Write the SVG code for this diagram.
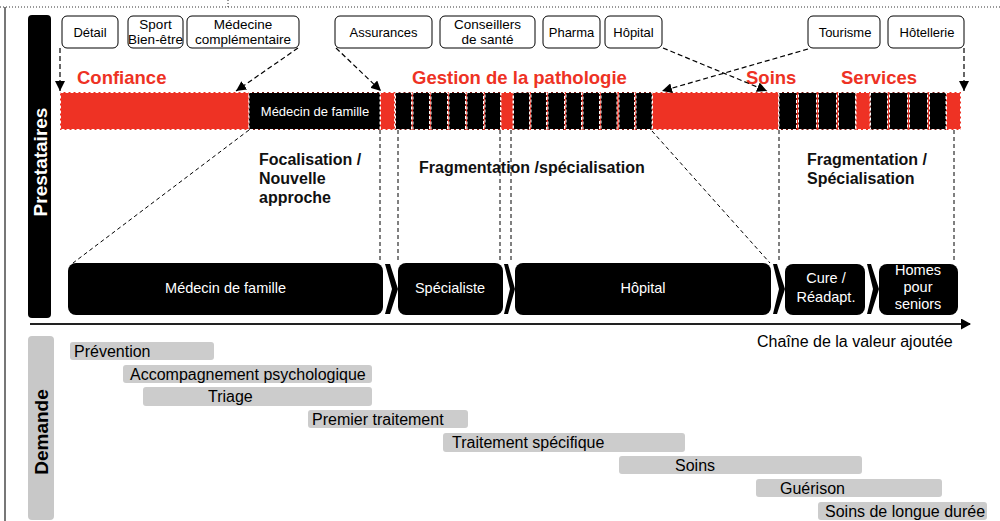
<svg xmlns="http://www.w3.org/2000/svg" width="1000" height="521" viewBox="0 0 1000 521">
<defs>
<style>
text{font-family:"Liberation Sans",Arial,sans-serif;}
.src rect{fill:#fff;stroke:#000;stroke-width:1;}
.src text{font-size:13px;fill:#000;text-anchor:middle;}
.src text.t2{font-size:13.5px;}
.red{fill:#EE3224;font-weight:bold;font-size:18.5px;}
.seg{fill:#000;stroke:#fff;stroke-width:1;stroke-dasharray:3,2;}
.segr{fill:#EE3224;stroke:#fff;stroke-width:1;stroke-dasharray:3,2;}
.stage rect,.stage polygon{fill:#000;}
.stage text{fill:#fff;font-size:14.5px;text-anchor:middle;}
.bold{font-weight:bold;font-size:16px;fill:#111;}
.dem rect{fill:#CCCCCC;}
.dem text{font-size:16px;fill:#000;}
.arr{fill:none;stroke:#000;stroke-width:1.2;stroke-dasharray:5,3;marker-end:url(#ah);}
.dl{fill:none;stroke:#000;stroke-width:1;stroke-dasharray:4,3;}
</style>
<marker id="ah" markerWidth="10" markerHeight="10" refX="10" refY="5" orient="auto" markerUnits="userSpaceOnUse">
<path d="M0,0 L10,5 L0,10 Z" fill="#000"/>
</marker>
<marker id="axh" markerWidth="10" markerHeight="11" refX="9" refY="5.5" orient="auto" markerUnits="userSpaceOnUse">
<path d="M0,0 L10,5.5 L0,11 Z" fill="#000"/>
</marker>
</defs>
<rect width="1000" height="521" fill="#fff"/>
<!-- frame -->
<g id="frame">
<line x1="0" y1="7" x2="1000" y2="7" stroke="#333" stroke-width="1" stroke-dasharray="1,2"/>
<line x1="228" y1="0" x2="228" y2="7" stroke="#333" stroke-width="1" stroke-dasharray="1,2"/>
<line x1="5" y1="7" x2="5" y2="521" stroke="#777" stroke-width="2"/>
</g>
<!-- side labels -->
<g id="prestataires">
<rect x="28" y="15" width="23" height="303" rx="4" fill="#000"/>
<text transform="translate(46.5,162) rotate(-90)" text-anchor="middle" font-size="19" font-weight="bold" fill="#fff">Prestataires</text>
</g>
<g id="demande">
<rect x="28" y="336" width="26" height="184" rx="4" fill="#C8C8C8"/>
<text transform="translate(48,432) rotate(-90)" text-anchor="middle" font-size="19" font-weight="bold" fill="#000">Demande</text>
</g>
<!-- top source boxes -->
<g class="src">
<g id="detail"><rect x="62" y="16" width="56" height="32" rx="5"/><text x="90" y="37">Détail</text></g>
<g id="sport"><rect x="128" y="16" width="55" height="32" rx="5"/><text class="t2" x="155.5" y="29">Sport</text><text class="t2" x="155.5" y="44">Bien-être</text></g>
<g id="medcomp"><rect x="187" y="16" width="112" height="32" rx="5"/><text class="t2" x="243" y="29">Médecine</text><text class="t2" x="243" y="44">complémentaire</text></g>
<g id="assurances"><rect x="335" y="16" width="97" height="32" rx="5"/><text x="383.5" y="37">Assurances</text></g>
<g id="conseillers"><rect x="440" y="16" width="95" height="32" rx="5"/><text class="t2" x="487.5" y="29">Conseillers</text><text class="t2" x="487.5" y="44">de santé</text></g>
<g id="pharma"><rect x="543" y="16" width="57" height="32" rx="5"/><text x="571.5" y="37">Pharma</text></g>
<g id="hopital-src"><rect x="605" y="16" width="57" height="32" rx="5"/><text x="633.5" y="37">Hôpital</text></g>
<g id="tourisme"><rect x="808" y="16" width="72" height="32" rx="5"/><text x="845" y="37">Tourisme</text></g>
<g id="hotellerie"><rect x="888" y="16" width="76" height="32" rx="5"/><text x="927" y="37">Hôtellerie</text></g>
</g>
<!-- red headings -->
<g id="headings">
<text class="red" x="77" y="84">Confiance</text>
<text class="red" x="412" y="84">Gestion de la pathologie</text>
<text class="red" x="746" y="84">Soins</text>
<text class="red" x="841" y="84">Services</text>
</g>
<!-- bar -->
<g id="bar">
<rect x="60" y="92" width="901" height="38" fill="#EE3224"/>
<rect class="segr" x="60.5" y="92.5" width="188.5" height="37"/>
<rect class="seg" x="249" y="92.5" width="131" height="37"/>
<text x="315" y="115.5" font-size="13" fill="#fff" text-anchor="middle">Médecin de famille</text>
<rect class="segr" x="380.5" y="92.5" width="14" height="37"/>
<rect class="seg" x="395.5" y="92.5" width="16" height="37"/>
<rect class="seg" x="413" y="92.5" width="16.5" height="37"/>
<rect class="seg" x="431" y="92.5" width="16.5" height="37"/>
<rect class="seg" x="449" y="92.5" width="16.5" height="37"/>
<rect class="seg" x="467" y="92.5" width="16.5" height="37"/>
<rect class="seg" x="485" y="92.5" width="15.5" height="37"/>
<rect class="segr" x="501" y="92.5" width="12" height="37"/>
<rect class="seg" x="513.5" y="92.5" width="16" height="37"/>
<rect class="seg" x="531" y="92.5" width="15.5" height="37"/>
<rect class="seg" x="548" y="92.5" width="16.5" height="37"/>
<rect class="seg" x="566" y="92.5" width="15.5" height="37"/>
<rect class="seg" x="583" y="92.5" width="16.5" height="37"/>
<rect class="seg" x="601" y="92.5" width="16" height="37"/>
<rect class="seg" x="619" y="92.5" width="15.5" height="37"/>
<rect class="seg" x="636" y="92.5" width="16" height="37"/>
<rect class="segr" x="652.5" y="92.5" width="126" height="37"/>
<rect class="seg" x="779" y="92.5" width="17.5" height="37"/>
<rect class="seg" x="798.5" y="92.5" width="18" height="37"/>
<rect class="seg" x="818.5" y="92.5" width="18" height="37"/>
<rect class="seg" x="838.5" y="92.5" width="17" height="37"/>
<rect class="segr" x="856" y="92.5" width="14" height="37"/>
<rect class="seg" x="870.5" y="92.5" width="17" height="37"/>
<rect class="seg" x="889.5" y="92.5" width="18" height="37"/>
<rect class="seg" x="909.5" y="92.5" width="18" height="37"/>
<rect class="seg" x="929.5" y="92.5" width="16.5" height="37"/>
<rect class="segr" x="946.5" y="92.5" width="14" height="37"/>
</g>
<!-- commentary -->
<g id="notes">
<text class="bold" x="259" y="165">Focalisation /</text>
<text class="bold" x="259" y="184">Nouvelle</text>
<text class="bold" x="259" y="203">approche</text>
<text class="bold" x="419" y="173">Fragmentation /spécialisation</text>
<text class="bold" x="807" y="165">Fragmentation /</text>
<text class="bold" x="807" y="184">Spécialisation</text>
</g>
<!-- connectors -->
<g id="connectors">
<path class="arr" d="M60,48 L60,91"/>
<path class="arr" d="M298,48 L236,91"/>
<path class="arr" d="M336,48 L381,91"/>
<path class="arr" d="M663,48 L767,91"/>
<path class="arr" d="M808,49 L662,91"/>
<path class="arr" d="M964,48 L964,91"/>
<path class="dl" d="M249,130 L73,263"/>
<path class="dl" d="M380,130 L380,263"/>
<path class="dl" d="M398,130 L398,263"/>
<path class="dl" d="M500,130 L500,263"/>
<path class="dl" d="M511,130 L511,263"/>
<path class="dl" d="M652,131 L770,263"/>
<path class="dl" d="M779,130 L779,263"/>
<path class="dl" d="M954,130 L954,263"/>
<line x1="30" y1="324" x2="970" y2="324" stroke="#222" stroke-width="2" marker-end="url(#axh)"/>
</g>
<text x="757" y="347" font-size="16" fill="#000">Chaîne de la valeur ajoutée</text>
<!-- stages -->
<g class="stage">
<g id="st-medecin"><rect x="68" y="263" width="315" height="52" rx="8"/><text x="225.5" y="293">Médecin de famille</text></g>
<g id="chev1"><polygon points="385,264 390,264 398,289 390,314 385,314 392,289"/></g>
<g id="st-specialiste"><rect x="398" y="263" width="105" height="52" rx="8"/><text x="450" y="293">Spécialiste</text></g>
<g id="chev2"><polygon points="504,264 508,264 515,289 508,314 504,314 510,289"/></g>
<g id="st-hopital"><rect x="515" y="263" width="256" height="52" rx="8"/><text x="643" y="293">Hôpital</text></g>
<g id="chev3"><polygon points="773,264 777,264 785,289 777,314 773,314 779,289"/></g>
<g id="st-cure"><rect x="785" y="264" width="80" height="51" rx="8"/><text x="826" y="283">Cure /</text><text x="826" y="302">Réadapt.</text></g>
<g id="chev4"><polygon points="867,264 871,264 879,289 871,314 867,314 873,289"/></g>
<g id="st-homes"><rect x="879" y="264" width="79" height="51" rx="8"/><text x="918" y="275">Homes</text><text x="918" y="292">pour</text><text x="918" y="309">seniors</text></g>
</g>
<!-- demand -->
<g class="dem">
<g id="d-prevention"><rect x="70" y="342" width="144" height="18" rx="3"/><text x="74" y="357">Prévention</text></g>
<g id="d-accomp"><rect x="123" y="365" width="249" height="18" rx="3"/><text x="130" y="380">Accompagnement psychologique</text></g>
<g id="d-triage"><rect x="143" y="387" width="229" height="19" rx="3"/><text x="208" y="402">Triage</text></g>
<g id="d-premier"><rect x="308" y="410" width="160" height="18" rx="3"/><text x="312" y="425">Premier traitement</text></g>
<g id="d-specifique"><rect x="443" y="433" width="242" height="19" rx="3"/><text x="452" y="448">Traitement spécifique</text></g>
<g id="d-soins"><rect x="619" y="456" width="243" height="18" rx="3"/><text x="675" y="471">Soins</text></g>
<g id="d-guerison"><rect x="756" y="479" width="186" height="18" rx="3"/><text x="780" y="494">Guérison</text></g>
<g id="d-longue"><rect x="818" y="502" width="169" height="18" rx="3"/><text x="825" y="517">Soins de longue durée</text></g>
</g>
</svg>
